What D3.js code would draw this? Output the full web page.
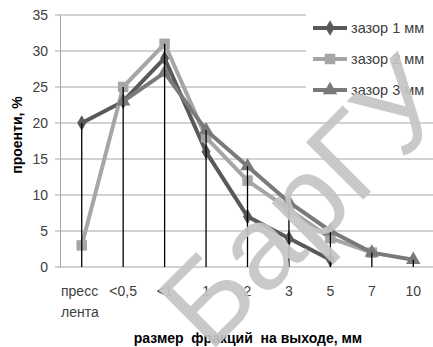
<!DOCTYPE html>
<html>
<head>
<meta charset="utf-8">
<script src="https://cdn.jsdelivr.net/npm/d3@7"></script>
<style>
  body { margin: 0; background: #fff; }
  svg text { font-family: "Liberation Sans", Arial, sans-serif; }
</style>
</head>
<body>
<script>
// categories on the x axis (first one is two lines)
var categories = ["пресс|лента", "<0,5", "<1", "1", "2", "3", "5", "7", "10"];
var yTicks = [0, 5, 10, 15, 20, 25, 30, 35];
var seriesNames = ["зазор 1 мм", "зазор 2 мм", "зазор 3 мм"];
// values per category, null = no point
var gap1 = [20, 23, 29, 16, 7, 4, 1, null, null];
var gap2 = [3, 25, 31, 18, 12, 8, 4, 2, null];
var gap3 = [null, 23, 27, 19, 14, 9, 5, 2, 1];

var width = 433, height = 347;
var svg = d3.select("body").append("svg")
  .attr("width", width).attr("height", height);

var x = d3.scaleBand().domain(categories).range([61, 434]);
var y = d3.scaleLinear().domain([0, 35]).range([267, 15]);
var cx = function(c) { return x(c) + x.bandwidth() / 2; };

// gridlines
svg.append("g").selectAll("line")
  .data(yTicks).enter().append("line")
  .attr("x1", 55).attr("x2", width)
  .attr("y1", function(d) { return y(d); })
  .attr("y2", function(d) { return y(d); })
  .attr("stroke", "#a6a6a6").attr("stroke-width", 1);

// y axis line
svg.append("line")
  .attr("x1", 60.5).attr("x2", 60.5).attr("y1", y(35)).attr("y2", y(0))
  .attr("stroke", "#a6a6a6");

// y tick labels
svg.append("g").selectAll("text")
  .data(yTicks).enter().append("text")
  .attr("x", 48).attr("y", function(d) { return y(d) + 5; })
  .attr("text-anchor", "end")
  .attr("font-size", 14).attr("fill", "#404040")
  .text(function(d) { return d; });

// x tick labels
categories.forEach(function(c) {
  var parts = c.split("|");
  var t = svg.append("text")
    .attr("font-size", 14).attr("fill", "#404040")
    .attr("text-anchor", parts.length > 1 ? "start" : "middle")
    .attr("x", parts.length > 1 ? 61 : cx(c))
    .attr("y", 296);
  parts.forEach(function(p, i) {
    t.append("tspan").attr("x", parts.length > 1 ? 61 : cx(c))
      .attr("dy", i ? 21 : 0).text(p);
  });
});

var all = [
  {name: seriesNames[0], values: gap1, color: "#595959", marker: d3.symbolDiamond, size: 70},
  {name: seriesNames[1], values: gap2, color: "#a6a6a6", marker: d3.symbolSquare, size: 110},
  {name: seriesNames[2], values: gap3, color: "#7a7a7a", marker: d3.symbolTriangle, size: 90}
];

var line = d3.line()
  .defined(function(d) { return d.v != null; })
  .x(function(d) { return cx(d.c); })
  .y(function(d) { return y(d.v); });

all.forEach(function(s) {
  var pts = categories.map(function(c, i) { return {c: c, v: s.values[i]}; });
  svg.append("path").datum(pts)
    .attr("d", line).attr("fill", "none")
    .attr("stroke", s.color).attr("stroke-width", 4)
    .attr("stroke-linejoin", "round");
  svg.append("g").selectAll("path")
    .data(pts.filter(function(d) { return d.v != null; }))
    .enter().append("path")
    .attr("d", d3.symbol().type(s.marker).size(s.size))
    .attr("transform", function(d) { return "translate(" + cx(d.c) + "," + y(d.v) + ")"; })
    .attr("fill", s.color);
});

// drop lines from the highest point of each category
categories.forEach(function(c, i) {
  var top = d3.max([gap1[i], gap2[i], gap3[i]]);
  svg.append("line")
    .attr("x1", cx(c)).attr("x2", cx(c))
    .attr("y1", y(top)).attr("y2", y(0))
    .attr("stroke", "#000").attr("stroke-width", 1.3);
});

// legend
var lg = svg.append("g");
lg.append("rect").attr("x", 306).attr("y", 8).attr("width", 127).attr("height", 100).attr("fill", "#fff");
all.forEach(function(s, i) {
  var ly = 28 + i * 31;
  lg.append("line").attr("x1", 313).attr("x2", 347).attr("y1", ly).attr("y2", ly)
    .attr("stroke", s.color).attr("stroke-width", 4);
  lg.append("path").attr("d", d3.symbol().type(s.marker).size(s.size))
    .attr("transform", "translate(330," + ly + ")").attr("fill", s.color);
  lg.append("text").attr("x", 351).attr("y", ly + 5)
    .attr("font-size", 14.5).attr("fill", "#404040").text(s.name);
});

// axis titles
svg.append("text")
  .attr("transform", "translate(22,135) rotate(-90)")
  .attr("text-anchor", "middle").attr("font-size", 14).attr("font-weight", "bold")
  .attr("fill", "#000").text("проенти, %");
svg.append("text")
  .attr("x", 248).attr("y", 343).attr("text-anchor", "middle")
  .attr("font-size", 14).attr("font-weight", "bold").attr("fill", "#000")
  .style("white-space", "pre")
  .text("размер  фракций  на выходе, мм");

// watermark
svg.append("text")
  .attr("transform", "translate(209,354) rotate(-45)")
  .attr("font-size", 118).attr("fill", "#c4c4c4").attr("fill-opacity", 0.92)
  .text("БарГУ");
</script>
</body>
</html>
